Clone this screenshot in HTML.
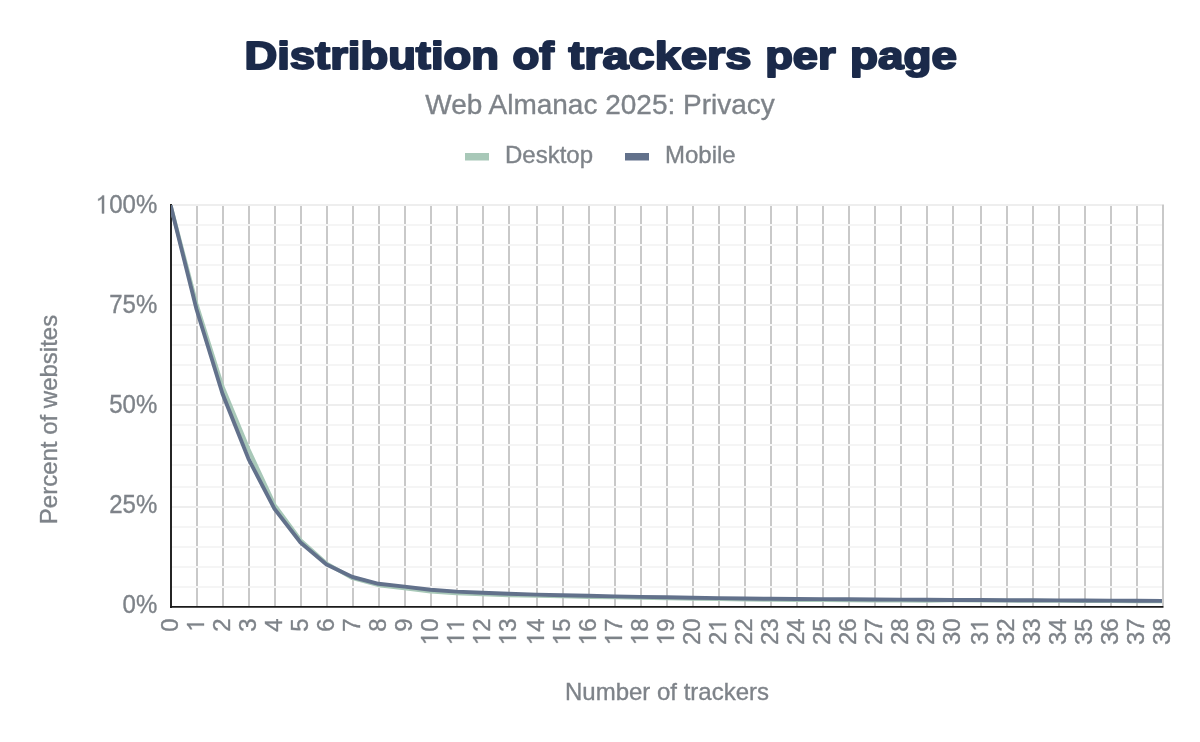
<!DOCTYPE html>
<html><head><meta charset="utf-8"><style>
html,body{margin:0;padding:0;background:#fff;}
body{width:1200px;height:742px;overflow:hidden;}
svg{display:block;will-change:transform;}
text{font-family:"Liberation Sans",sans-serif;}
.t{font-size:24px;fill:#7e8389;stroke:#7e8389;stroke-width:0.35px;}
.g{fill:#7e8389;stroke:#7e8389;stroke-width:30;}
.ti{font-size:38.5px;font-weight:700;fill:#1b2a4a;stroke:#1b2a4a;stroke-width:2.0px;stroke-linejoin:round;}
</style></head><body>
<svg width="1200" height="742" viewBox="0 0 1200 742">
<defs><clipPath id="pc"><rect x="171" y="205" width="991" height="402"/></clipPath></defs>
<rect width="1200" height="742" fill="#fff"/>
<text x="244.5" y="68.5" textLength="254.5" lengthAdjust="spacingAndGlyphs" class="ti">Distribution</text>
<text x="512.5" y="68.5" textLength="41.5" lengthAdjust="spacingAndGlyphs" class="ti">of</text>
<text x="568.5" y="68.5" textLength="183" lengthAdjust="spacingAndGlyphs" class="ti">trackers</text>
<text x="765.2" y="68.5" textLength="70.5" lengthAdjust="spacingAndGlyphs" class="ti">per</text>
<text x="850" y="68.5" textLength="107" lengthAdjust="spacingAndGlyphs" class="ti">page</text>
<text transform="translate(600,114.0) scale(1,1.02)" font-size="28" fill="#7e8389" stroke="#7e8389" stroke-width="0.35" text-anchor="middle">Web Almanac 2025: Privacy</text>
<rect x="465" y="153" width="24" height="7.5" fill="#a8c8b8"/>
<text transform="translate(505,163.4) scale(1,1.02)" class="t">Desktop</text>
<rect x="625" y="153" width="24" height="7.5" fill="#62718b"/>
<text transform="translate(665,163.4) scale(1,1.02)" class="t">Mobile</text>
<line x1="197" y1="205" x2="197" y2="606" stroke="#c9c9c9" stroke-width="2"/>
<line x1="223" y1="205" x2="223" y2="606" stroke="#c9c9c9" stroke-width="2"/>
<line x1="249" y1="205" x2="249" y2="606" stroke="#c9c9c9" stroke-width="2"/>
<line x1="275" y1="205" x2="275" y2="606" stroke="#c9c9c9" stroke-width="2"/>
<line x1="301" y1="205" x2="301" y2="606" stroke="#c9c9c9" stroke-width="2"/>
<line x1="327" y1="205" x2="327" y2="606" stroke="#c9c9c9" stroke-width="2"/>
<line x1="353" y1="205" x2="353" y2="606" stroke="#c9c9c9" stroke-width="2"/>
<line x1="379" y1="205" x2="379" y2="606" stroke="#c9c9c9" stroke-width="2"/>
<line x1="405" y1="205" x2="405" y2="606" stroke="#c9c9c9" stroke-width="2"/>
<line x1="431" y1="205" x2="431" y2="606" stroke="#c9c9c9" stroke-width="2"/>
<line x1="457" y1="205" x2="457" y2="606" stroke="#c9c9c9" stroke-width="2"/>
<line x1="483" y1="205" x2="483" y2="606" stroke="#c9c9c9" stroke-width="2"/>
<line x1="509" y1="205" x2="509" y2="606" stroke="#c9c9c9" stroke-width="2"/>
<line x1="537" y1="205" x2="537" y2="606" stroke="#c9c9c9" stroke-width="2"/>
<line x1="563" y1="205" x2="563" y2="606" stroke="#c9c9c9" stroke-width="2"/>
<line x1="589" y1="205" x2="589" y2="606" stroke="#c9c9c9" stroke-width="2"/>
<line x1="615" y1="205" x2="615" y2="606" stroke="#c9c9c9" stroke-width="2"/>
<line x1="641" y1="205" x2="641" y2="606" stroke="#c9c9c9" stroke-width="2"/>
<line x1="667" y1="205" x2="667" y2="606" stroke="#c9c9c9" stroke-width="2"/>
<line x1="693" y1="205" x2="693" y2="606" stroke="#c9c9c9" stroke-width="2"/>
<line x1="719" y1="205" x2="719" y2="606" stroke="#c9c9c9" stroke-width="2"/>
<line x1="745" y1="205" x2="745" y2="606" stroke="#c9c9c9" stroke-width="2"/>
<line x1="771" y1="205" x2="771" y2="606" stroke="#c9c9c9" stroke-width="2"/>
<line x1="797" y1="205" x2="797" y2="606" stroke="#c9c9c9" stroke-width="2"/>
<line x1="823" y1="205" x2="823" y2="606" stroke="#c9c9c9" stroke-width="2"/>
<line x1="849" y1="205" x2="849" y2="606" stroke="#c9c9c9" stroke-width="2"/>
<line x1="875" y1="205" x2="875" y2="606" stroke="#c9c9c9" stroke-width="2"/>
<line x1="901" y1="205" x2="901" y2="606" stroke="#c9c9c9" stroke-width="2"/>
<line x1="927" y1="205" x2="927" y2="606" stroke="#c9c9c9" stroke-width="2"/>
<line x1="953" y1="205" x2="953" y2="606" stroke="#c9c9c9" stroke-width="2"/>
<line x1="981" y1="205" x2="981" y2="606" stroke="#c9c9c9" stroke-width="2"/>
<line x1="1007" y1="205" x2="1007" y2="606" stroke="#c9c9c9" stroke-width="2"/>
<line x1="1033" y1="205" x2="1033" y2="606" stroke="#c9c9c9" stroke-width="2"/>
<line x1="1059" y1="205" x2="1059" y2="606" stroke="#c9c9c9" stroke-width="2"/>
<line x1="1085" y1="205" x2="1085" y2="606" stroke="#c9c9c9" stroke-width="2"/>
<line x1="1111" y1="205" x2="1111" y2="606" stroke="#c9c9c9" stroke-width="2"/>
<line x1="1137" y1="205" x2="1137" y2="606" stroke="#c9c9c9" stroke-width="2"/>
<line x1="171" y1="204.9" x2="1162" y2="204.9" stroke="#eeeeee" stroke-width="2"/>
<line x1="171" y1="224.9" x2="1162" y2="224.9" stroke="#f5f5f5" stroke-width="2"/>
<line x1="171" y1="244.9" x2="1162" y2="244.9" stroke="#f5f5f5" stroke-width="2"/>
<line x1="171" y1="264.9" x2="1162" y2="264.9" stroke="#f5f5f5" stroke-width="2"/>
<line x1="171" y1="284.9" x2="1162" y2="284.9" stroke="#f5f5f5" stroke-width="2"/>
<line x1="171" y1="304.9" x2="1162" y2="304.9" stroke="#eeeeee" stroke-width="2"/>
<line x1="171" y1="324.9" x2="1162" y2="324.9" stroke="#f5f5f5" stroke-width="2"/>
<line x1="171" y1="344.9" x2="1162" y2="344.9" stroke="#f5f5f5" stroke-width="2"/>
<line x1="171" y1="364.9" x2="1162" y2="364.9" stroke="#f5f5f5" stroke-width="2"/>
<line x1="171" y1="384.9" x2="1162" y2="384.9" stroke="#f5f5f5" stroke-width="2"/>
<line x1="171" y1="404.9" x2="1162" y2="404.9" stroke="#eeeeee" stroke-width="2"/>
<line x1="171" y1="424.9" x2="1162" y2="424.9" stroke="#f5f5f5" stroke-width="2"/>
<line x1="171" y1="444.9" x2="1162" y2="444.9" stroke="#f5f5f5" stroke-width="2"/>
<line x1="171" y1="464.9" x2="1162" y2="464.9" stroke="#f5f5f5" stroke-width="2"/>
<line x1="171" y1="486.9" x2="1162" y2="486.9" stroke="#f5f5f5" stroke-width="2"/>
<line x1="171" y1="506.9" x2="1162" y2="506.9" stroke="#eeeeee" stroke-width="2"/>
<line x1="171" y1="526.9" x2="1162" y2="526.9" stroke="#f5f5f5" stroke-width="2"/>
<line x1="171" y1="546.9" x2="1162" y2="546.9" stroke="#f5f5f5" stroke-width="2"/>
<line x1="171" y1="566.9" x2="1162" y2="566.9" stroke="#f5f5f5" stroke-width="2"/>
<line x1="171" y1="586.9" x2="1162" y2="586.9" stroke="#f5f5f5" stroke-width="2"/>
<line x1="1163" y1="204.5" x2="1163" y2="606" stroke="#c9c9c9" stroke-width="2"/>
<line x1="171" y1="204" x2="171" y2="607.9" stroke="#1a1a1a" stroke-width="1.9"/>
<line x1="170" y1="606.9" x2="1163.5" y2="606.9" stroke="#1a1a1a" stroke-width="1.9"/>
<g clip-path="url(#pc)">
<path d="M170.50,204.90 L196.50,304.10 L222.50,386.50 L248.50,449.30 L274.50,504.90 L300.50,540.10 L326.50,563.40 L352.50,578.20 L378.50,585.20 L404.50,588.40 L430.50,591.60 L456.50,593.20 L482.50,594.20 L508.50,595.20 L536.50,595.80 L562.50,596.40 L588.50,597.00 L614.50,597.42 L640.50,597.84 L666.50,598.26 L692.50,598.68 L718.50,599.11 L744.50,599.53 L770.50,599.82 L796.50,599.98 L822.50,600.14 L848.50,600.30 L874.50,600.46 L900.50,600.62 L926.50,600.77 L952.50,600.41 L980.50,600.54 L1006.50,600.66 L1032.50,600.78 L1058.50,600.90 L1084.50,601.02 L1110.50,601.14 L1136.50,601.26 L1162.50,601.38" fill="none" stroke="#a8c8b8" stroke-width="3.9" stroke-linejoin="round"/>
<path d="M170.50,204.90 L196.50,309.30 L222.50,393.70 L248.50,458.90 L274.50,508.90 L300.50,542.50 L326.50,564.60 L352.50,577.00 L378.50,583.80 L404.50,586.60 L430.50,589.80 L456.50,591.60 L482.50,592.80 L508.50,593.80 L536.50,594.60 L562.50,595.20 L588.50,595.80 L614.50,596.42 L640.50,596.84 L666.50,597.26 L692.50,597.68 L718.50,598.11 L744.50,598.53 L770.50,598.82 L796.50,598.98 L822.50,599.14 L848.50,599.30 L874.50,599.46 L900.50,599.62 L926.50,599.77 L952.50,599.93 L980.50,600.06 L1006.50,600.18 L1032.50,600.30 L1058.50,600.42 L1084.50,600.54 L1110.50,600.66 L1136.50,600.78 L1162.50,600.90" fill="none" stroke="#62718b" stroke-width="3.9" stroke-linejoin="round"/>
</g>
<g transform="translate(157.3,613.4)"><text x="-34.69 -21.34" y="0" class="t" transform="scale(1,1.09)">0%</text></g>
<g transform="translate(157.3,513.4)"><text x="-48.04 -34.69 -21.34" y="0" class="t" transform="scale(1,1.09)">25%</text></g>
<g transform="translate(157.3,413.4)"><text x="-48.04 -34.69 -21.34" y="0" class="t" transform="scale(1,1.09)">50%</text></g>
<g transform="translate(157.3,313.4)"><text x="-48.04 -34.69 -21.34" y="0" class="t" transform="scale(1,1.09)">75%</text></g>
<g transform="translate(157.3,213.4)"><path d="M515,0 L696,0 L696,1409 L548,1409 C500,1320 380,1210 197,1140 L197,985 C330,1030 440,1100 515,1170 Z" transform="translate(-61.38,0) scale(0.011719,-0.012773)" class="g"/><text x="-48.04 -34.69 -21.34" y="0" class="t" transform="scale(1,1.09)">00%</text></g>
<g transform="translate(178.00,618.3) rotate(-90)"><text x="-13.35" y="0" class="t" transform="scale(1,1.03)">0</text></g>
<g transform="translate(204.00,618.3) rotate(-90)"><path d="M515,0 L696,0 L696,1409 L548,1409 C500,1320 380,1210 197,1140 L197,985 C330,1030 440,1100 515,1170 Z" transform="translate(-13.35,0) scale(0.011719,-0.012070)" class="g"/></g>
<g transform="translate(230.00,618.3) rotate(-90)"><text x="-13.35" y="0" class="t" transform="scale(1,1.03)">2</text></g>
<g transform="translate(256.00,618.3) rotate(-90)"><text x="-13.35" y="0" class="t" transform="scale(1,1.03)">3</text></g>
<g transform="translate(282.00,618.3) rotate(-90)"><text x="-13.35" y="0" class="t" transform="scale(1,1.03)">4</text></g>
<g transform="translate(308.00,618.3) rotate(-90)"><text x="-13.35" y="0" class="t" transform="scale(1,1.03)">5</text></g>
<g transform="translate(334.00,618.3) rotate(-90)"><text x="-13.35" y="0" class="t" transform="scale(1,1.03)">6</text></g>
<g transform="translate(360.00,618.3) rotate(-90)"><text x="-13.35" y="0" class="t" transform="scale(1,1.03)">7</text></g>
<g transform="translate(386.00,618.3) rotate(-90)"><text x="-13.35" y="0" class="t" transform="scale(1,1.03)">8</text></g>
<g transform="translate(412.00,618.3) rotate(-90)"><text x="-13.35" y="0" class="t" transform="scale(1,1.03)">9</text></g>
<g transform="translate(438.00,618.3) rotate(-90)"><path d="M515,0 L696,0 L696,1409 L548,1409 C500,1320 380,1210 197,1140 L197,985 C330,1030 440,1100 515,1170 Z" transform="translate(-26.70,0) scale(0.011719,-0.012070)" class="g"/><text x="-13.35" y="0" class="t" transform="scale(1,1.03)">0</text></g>
<g transform="translate(464.00,618.3) rotate(-90)"><path d="M515,0 L696,0 L696,1409 L548,1409 C500,1320 380,1210 197,1140 L197,985 C330,1030 440,1100 515,1170 Z" transform="translate(-26.70,0) scale(0.011719,-0.012070)" class="g"/><path d="M515,0 L696,0 L696,1409 L548,1409 C500,1320 380,1210 197,1140 L197,985 C330,1030 440,1100 515,1170 Z" transform="translate(-13.35,0) scale(0.011719,-0.012070)" class="g"/></g>
<g transform="translate(490.00,618.3) rotate(-90)"><path d="M515,0 L696,0 L696,1409 L548,1409 C500,1320 380,1210 197,1140 L197,985 C330,1030 440,1100 515,1170 Z" transform="translate(-26.70,0) scale(0.011719,-0.012070)" class="g"/><text x="-13.35" y="0" class="t" transform="scale(1,1.03)">2</text></g>
<g transform="translate(516.00,618.3) rotate(-90)"><path d="M515,0 L696,0 L696,1409 L548,1409 C500,1320 380,1210 197,1140 L197,985 C330,1030 440,1100 515,1170 Z" transform="translate(-26.70,0) scale(0.011719,-0.012070)" class="g"/><text x="-13.35" y="0" class="t" transform="scale(1,1.03)">3</text></g>
<g transform="translate(544.00,618.3) rotate(-90)"><path d="M515,0 L696,0 L696,1409 L548,1409 C500,1320 380,1210 197,1140 L197,985 C330,1030 440,1100 515,1170 Z" transform="translate(-26.70,0) scale(0.011719,-0.012070)" class="g"/><text x="-13.35" y="0" class="t" transform="scale(1,1.03)">4</text></g>
<g transform="translate(570.00,618.3) rotate(-90)"><path d="M515,0 L696,0 L696,1409 L548,1409 C500,1320 380,1210 197,1140 L197,985 C330,1030 440,1100 515,1170 Z" transform="translate(-26.70,0) scale(0.011719,-0.012070)" class="g"/><text x="-13.35" y="0" class="t" transform="scale(1,1.03)">5</text></g>
<g transform="translate(596.00,618.3) rotate(-90)"><path d="M515,0 L696,0 L696,1409 L548,1409 C500,1320 380,1210 197,1140 L197,985 C330,1030 440,1100 515,1170 Z" transform="translate(-26.70,0) scale(0.011719,-0.012070)" class="g"/><text x="-13.35" y="0" class="t" transform="scale(1,1.03)">6</text></g>
<g transform="translate(622.00,618.3) rotate(-90)"><path d="M515,0 L696,0 L696,1409 L548,1409 C500,1320 380,1210 197,1140 L197,985 C330,1030 440,1100 515,1170 Z" transform="translate(-26.70,0) scale(0.011719,-0.012070)" class="g"/><text x="-13.35" y="0" class="t" transform="scale(1,1.03)">7</text></g>
<g transform="translate(648.00,618.3) rotate(-90)"><path d="M515,0 L696,0 L696,1409 L548,1409 C500,1320 380,1210 197,1140 L197,985 C330,1030 440,1100 515,1170 Z" transform="translate(-26.70,0) scale(0.011719,-0.012070)" class="g"/><text x="-13.35" y="0" class="t" transform="scale(1,1.03)">8</text></g>
<g transform="translate(674.00,618.3) rotate(-90)"><path d="M515,0 L696,0 L696,1409 L548,1409 C500,1320 380,1210 197,1140 L197,985 C330,1030 440,1100 515,1170 Z" transform="translate(-26.70,0) scale(0.011719,-0.012070)" class="g"/><text x="-13.35" y="0" class="t" transform="scale(1,1.03)">9</text></g>
<g transform="translate(700.00,618.3) rotate(-90)"><text x="-26.70 -13.35" y="0" class="t" transform="scale(1,1.03)">20</text></g>
<g transform="translate(726.00,618.3) rotate(-90)"><path d="M515,0 L696,0 L696,1409 L548,1409 C500,1320 380,1210 197,1140 L197,985 C330,1030 440,1100 515,1170 Z" transform="translate(-13.35,0) scale(0.011719,-0.012070)" class="g"/><text x="-26.70" y="0" class="t" transform="scale(1,1.03)">2</text></g>
<g transform="translate(752.00,618.3) rotate(-90)"><text x="-26.70 -13.35" y="0" class="t" transform="scale(1,1.03)">22</text></g>
<g transform="translate(778.00,618.3) rotate(-90)"><text x="-26.70 -13.35" y="0" class="t" transform="scale(1,1.03)">23</text></g>
<g transform="translate(804.00,618.3) rotate(-90)"><text x="-26.70 -13.35" y="0" class="t" transform="scale(1,1.03)">24</text></g>
<g transform="translate(830.00,618.3) rotate(-90)"><text x="-26.70 -13.35" y="0" class="t" transform="scale(1,1.03)">25</text></g>
<g transform="translate(856.00,618.3) rotate(-90)"><text x="-26.70 -13.35" y="0" class="t" transform="scale(1,1.03)">26</text></g>
<g transform="translate(882.00,618.3) rotate(-90)"><text x="-26.70 -13.35" y="0" class="t" transform="scale(1,1.03)">27</text></g>
<g transform="translate(908.00,618.3) rotate(-90)"><text x="-26.70 -13.35" y="0" class="t" transform="scale(1,1.03)">28</text></g>
<g transform="translate(934.00,618.3) rotate(-90)"><text x="-26.70 -13.35" y="0" class="t" transform="scale(1,1.03)">29</text></g>
<g transform="translate(960.00,618.3) rotate(-90)"><text x="-26.70 -13.35" y="0" class="t" transform="scale(1,1.03)">30</text></g>
<g transform="translate(988.00,618.3) rotate(-90)"><path d="M515,0 L696,0 L696,1409 L548,1409 C500,1320 380,1210 197,1140 L197,985 C330,1030 440,1100 515,1170 Z" transform="translate(-13.35,0) scale(0.011719,-0.012070)" class="g"/><text x="-26.70" y="0" class="t" transform="scale(1,1.03)">3</text></g>
<g transform="translate(1014.00,618.3) rotate(-90)"><text x="-26.70 -13.35" y="0" class="t" transform="scale(1,1.03)">32</text></g>
<g transform="translate(1040.00,618.3) rotate(-90)"><text x="-26.70 -13.35" y="0" class="t" transform="scale(1,1.03)">33</text></g>
<g transform="translate(1066.00,618.3) rotate(-90)"><text x="-26.70 -13.35" y="0" class="t" transform="scale(1,1.03)">34</text></g>
<g transform="translate(1092.00,618.3) rotate(-90)"><text x="-26.70 -13.35" y="0" class="t" transform="scale(1,1.03)">35</text></g>
<g transform="translate(1118.00,618.3) rotate(-90)"><text x="-26.70 -13.35" y="0" class="t" transform="scale(1,1.03)">36</text></g>
<g transform="translate(1144.00,618.3) rotate(-90)"><text x="-26.70 -13.35" y="0" class="t" transform="scale(1,1.03)">37</text></g>
<g transform="translate(1170.00,618.3) rotate(-90)"><text x="-26.70 -13.35" y="0" class="t" transform="scale(1,1.03)">38</text></g>
<text transform="translate(56.5,419.5) rotate(-90) scale(1,1.02)" text-anchor="middle" class="t">Percent of websites</text>
<text transform="translate(667,699.9) scale(1,1.02)" text-anchor="middle" class="t">Number of trackers</text>
</svg>
</body></html>
